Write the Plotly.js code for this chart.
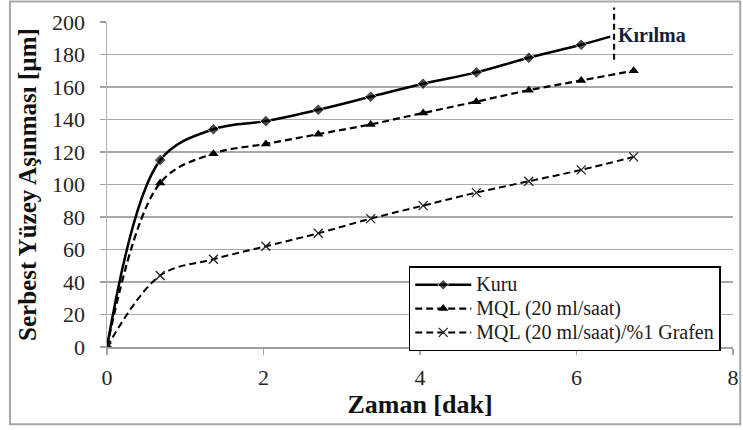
<!DOCTYPE html>
<html lang="tr">
<head>
<meta charset="utf-8">
<script src="https://cdn.plot.ly/plotly-3.0.1.min.js"></script>
<style>html,body{margin:0;padding:0;background:#fff;}#chart{width:743px;height:430px;}</style>
</head>
<body>
<div id="chart"></div>
<script>
// Data
const kuruTime   = [0, 0.68, 1.36, 2.03, 2.70, 3.37, 4.04, 4.72, 5.39, 6.06, 6.43];
const kuruWear   = [0, 115, 134, 139, 146, 154, 162, 169, 178, 186, 191];
const mqlTime    = [0, 0.68, 1.36, 2.03, 2.70, 3.37, 4.04, 4.72, 5.39, 6.06, 6.73];
const mqlWear    = [0, 101, 119, 125, 131, 137, 144, 151, 158, 164, 170];
const grafenTime = [0, 0.68, 1.36, 2.03, 2.70, 3.37, 4.04, 4.72, 5.39, 6.06, 6.73];
const grafenWear = [0, 44, 54, 62, 70, 79, 87, 95, 102, 109, 117];
const seriesNames = ["Kuru", "MQL (20 ml/saat)", "MQL (20 ml/saat)/%1 Grafen"];
const breakTime = 6.48;
const breakLabel = "Kırılma";
const xTicks = [0, 2, 4, 6, 8];
const yTicks = [0, 20, 40, 60, 80, 100, 120, 140, 160, 180, 200];

const fam = "Liberation Serif";
const dashPat = "7px,4px";
const legendName = n => '<span style="font-size:20px">' + n + '</span>';

const kuruMarkerSizes = kuruTime.map((t, i) => i === kuruTime.length - 1 ? 0 : 9);

const traces = [
  {x: kuruTime, y: kuruWear, name: legendName(seriesNames[0]), mode: "lines+markers",
   line: {color: "#000", width: 2.5, shape: "spline", smoothing: 1},
   marker: {symbol: "diamond", size: kuruMarkerSizes, color: "#000"}},
  {x: mqlTime, y: mqlWear, name: legendName(seriesNames[1]), mode: "lines+markers",
   line: {color: "#000", width: 2.2, dash: dashPat, shape: "spline", smoothing: 1},
   marker: {symbol: "triangle-up", size: 9, color: "#000"}},
  {x: grafenTime, y: grafenWear, name: legendName(seriesNames[2]), mode: "lines+markers",
   line: {color: "#000", width: 2, dash: dashPat, shape: "spline", smoothing: 1},
   marker: {symbol: "x-thin-open", size: 9, color: "#222", line: {width: 1.3, color: "#222"}}}
];

const layout = {
  width: 743, height: 430,
  margin: {l: 107, r: 10, t: 22, b: 83},
  paper_bgcolor: "#fff", plot_bgcolor: "#fff",
  showlegend: true,
  legend: {x: 0.482, y: 0.248, xanchor: "left", yanchor: "top",
           bgcolor: "#fff", bordercolor: "#000", borderwidth: 1.5,
           font: {family: fam, size: 16, color: "#1a1a1a"},
           itemwidth: 56},
  xaxis: {range: [0, 8], tickvals: xTicks, ticks: "outside", ticklen: 6, tickcolor: "#a0a0a0", tickwidth: 1.5,
          showgrid: false, zeroline: false, showline: true, linecolor: "#a0a0a0", linewidth: 1.5,
          ticklabelstandoff: 4,
          tickfont: {family: fam, size: 22, color: "#262626"},
          title: {text: "<b>Zaman [dak]</b>", font: {family: fam, size: 26, color: "#111"}, standoff: 4}},
  yaxis: {range: [0, 200], tickvals: yTicks, ticks: "outside", ticklen: 6, tickcolor: "#a0a0a0", tickwidth: 1.5,
          showgrid: true, gridcolor: "#a8a8a8", gridwidth: 1.5, zeroline: false,
          showline: true, linecolor: "#b0b0b0", linewidth: 1.5,
          ticklabelstandoff: 10,
          tickfont: {family: fam, size: 22, color: "#262626"},
          title: {text: "<b>Serbest Yüzey Aşınması [µm]</b>", font: {family: fam, size: 25, color: "#111"}, standoff: 8}},
  shapes: [
    {type: "line", xref: "x", yref: "paper", x0: breakTime, x1: breakTime, y0: 0.884, y1: 1.045,
     line: {color: "#111", width: 2.2, dash: "6px,4px"}},
    {type: "rect", xref: "paper", yref: "paper", x0: -0.155, x1: 1.0115, y0: -0.238, y1: 1.063,
     line: {color: "#a6a6a6", width: 2}, fillcolor: "rgba(0,0,0,0)", layer: "below"}
  ],
  annotations: [
    {x: breakTime, y: 192, xref: "x", yref: "y", text: "<b>" + breakLabel + "</b>", showarrow: false,
     xanchor: "left", xshift: 2, font: {family: fam, size: 20, color: "#14203a"}}
  ]
};

Plotly.newPlot("chart", traces, layout, {displayModeBar: false, staticPlot: true});
</script>
</body>
</html>
